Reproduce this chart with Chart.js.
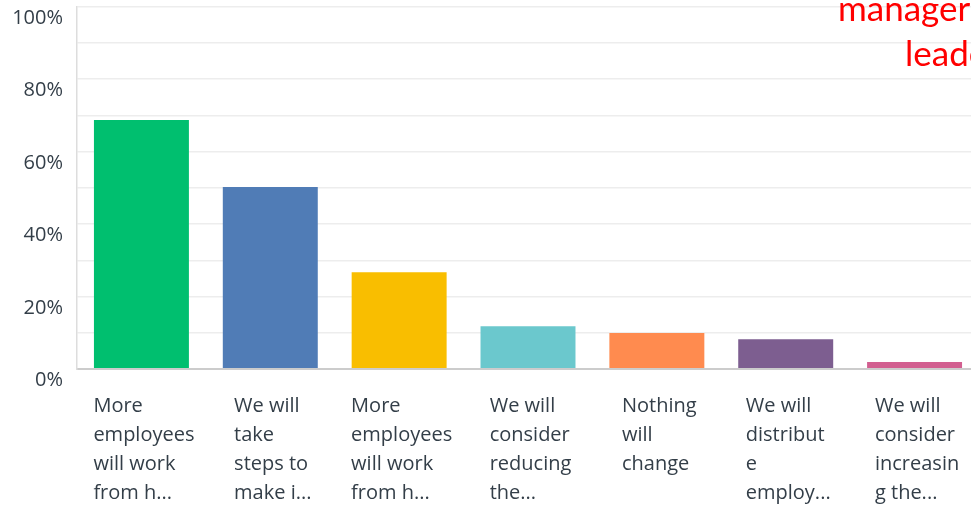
<!DOCTYPE html>
<html>
<head>
<meta charset="utf-8">
<script src="https://cdn.jsdelivr.net/npm/chart.js@4"></script>
<style>
  html, body { margin: 0; padding: 0; background: #ffffff; overflow: hidden; width: 971px; height: 505px; }
  #wrap { position: absolute; left: 0; top: 0; width: 979px; height: 505px; }
</style>
</head>
<body>
<div id="wrap"><canvas id="c" width="979" height="505"></canvas></div>
<script>
const categories = [
  ["More", "employees", "will work", "from h..."],
  ["We will", "take", "steps to", "make i..."],
  ["More", "employees", "will work", "from h..."],
  ["We will", "consider", "reducing", "the..."],
  ["Nothing", "will", "change"],
  ["We will", "distribut", "e", "employ..."],
  ["We will", "consider", "increasin", "g the..."]
];
const values = [68.7, 50.2, 26.7, 11.8, 9.9, 8.2, 1.9];
const barColors = ["#00BF6F", "#507CB6", "#F9BE00", "#6BC8CD", "#FF8B4F", "#7D5E90", "#D25F90"];
const yTicks = [0, 20, 40, 60, 80, 100];
const overlayLines = ["managers", "leaders"];

const textColor = "#333e48";
const tickFont = { family: "'Open Sans'", size: 20, lineHeight: 1.45 };

// Lines of each x label stay left-aligned, while the label block is centred on its bar.
const labelBlockPlugin = {
  id: "labelBlock",
  beforeDraw(chart) {
    const xs = chart.scales.x;
    const items = xs.getLabelItems(chart.chartArea);
    const ctx = chart.ctx;
    ctx.save();
    ctx.font = tickFont.size + "px " + tickFont.family;
    items.forEach((it, i) => {
      const lines = Array.isArray(it.label) ? it.label : [it.label];
      const w = Math.max(...lines.map((l) => ctx.measureText(l).width));
      it.options.translation[0] = xs.getPixelForTick(i) - w / 2 + 2.5;
    });
    ctx.restore();
  }
};

const overlayPlugin = {
  id: "overlayText",
  afterDraw(chart) {
    const ctx = chart.ctx;
    ctx.save();
    ctx.fillStyle = "#ff0000";
    ctx.font = "35px Lato";
    ctx.textAlign = "left";
    ctx.textBaseline = "alphabetic";
    ctx.fillText(overlayLines[0], 838, 21);
    ctx.fillText(overlayLines[1], 905, 66);
    ctx.restore();
  }
};

new Chart(document.getElementById("c"), {
  type: "bar",
  data: {
    labels: categories,
    datasets: [{
      data: values,
      backgroundColor: barColors,
      borderWidth: 0,
      barPercentage: 0.737,
      categoryPercentage: 1.0
    }]
  },
  options: {
    responsive: false,
    devicePixelRatio: 1,
    animation: false,
    layout: { autoPadding: false, padding: { top: 6.5, left: 0, right: 0, bottom: 0 } },
    plugins: { legend: { display: false }, tooltip: { enabled: false } },
    scales: {
      x: {
        grid: { display: false, drawTicks: false },
        border: { display: true, color: "#cccccc", width: 2 },
        ticks: {
          autoSkip: false,
          maxRotation: 0,
          minRotation: 0,
          align: "start",
          labelOffset: -47,
          padding: 23,
          color: textColor,
          font: tickFont
        },
        afterFit(scale) {
          scale.height = 136;
          scale.paddingLeft = 0; scale.paddingRight = 0;
          scale.paddingTop = 0; scale.paddingBottom = 0;
        }
      },
      y: {
        min: 0,
        max: 100,
        grid: {
          drawTicks: false,
          color: (c) => (c.tick && c.tick.value === 0 ? "#cccccc" : "#ededed"),
          lineWidth: (c) => (c.tick && c.tick.value === 0 ? 2 : 1.5)
        },
        border: { display: true, color: "#dddddd", width: 1.5 },
        ticks: {
          stepSize: 10,
          padding: 14,
          labelOffset: 11.5,
          color: textColor,
          font: { family: "'Open Sans'", size: 20 },
          callback: (v) => (yTicks.includes(v) ? v + "%" : "")
        },
        afterFit(scale) {
          scale.width = 77;
          scale.paddingLeft = 0; scale.paddingRight = 0;
          scale.paddingTop = 0; scale.paddingBottom = 0;
        }
      }
    }
  },
  plugins: [labelBlockPlugin, overlayPlugin]
});
</script>
</body>
</html>
